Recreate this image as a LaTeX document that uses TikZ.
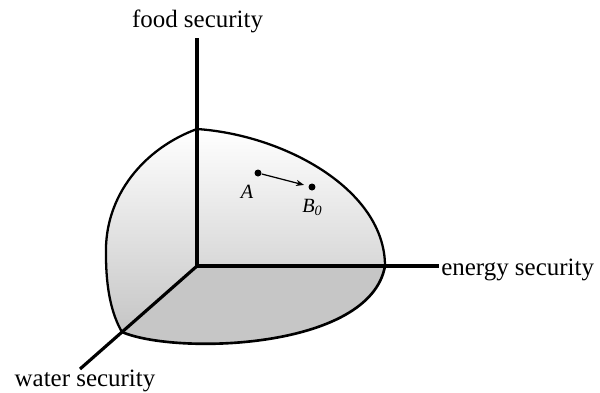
\documentclass[tikz,border=0pt]{standalone}
\usepackage{fontspec}
\setmainfont{Liberation Serif}
\usepackage{tikz}
\usetikzlibrary{calc, arrows.meta}

\begin{document}
\begin{tikzpicture}[x = 0.02cm, y = -0.02cm, font = \fontsize{14.2}{17}\selectfont]
        \useasboundingbox (0,0) rectangle (600,393);

        % Corners of the surface
        \coordinate (O) at (197,266);
        \coordinate (T) at (197,129);
        \coordinate (R) at (385,266);
        \coordinate (L) at (122,332);

        % Upper faces
        \shade[top color = white, bottom color = gray!45] (T) .. controls (285,135) and (385,190) .. (R) -- (O) -- (L) .. controls (112,315) and (106,290) .. (106,255) .. controls (104,195) and (145,148) .. (T) -- cycle;

        % Lower face
        \fill[gray!45] (R) .. controls (370,350) and (175,355) .. (L) -- (O) -- cycle;

        \draw[line width = 1.3pt] (T) .. controls (285,135) and (385,190) .. (R);
        \draw[line width = 1.3pt] (T) .. controls (145,148) and (104,195) .. (106,255) .. controls (106,290) and (112,315) .. (L);
        \draw[line width = 1.5pt] (L) .. controls (175,355) and (370,350) .. (R);

        % Axes
        \coordinate (Fend) at (197,38);
        \coordinate (Eend) at (439,266);
        \coordinate (Wend) at (80,369);
        \draw[line width = 2pt] (O) -- (Fend);
        \draw[line width = 2pt] (O) -- (Eend);
        \draw[line width = 1.8pt] (O) -- (Wend);

        \node[anchor = base] (food) at (197.5,27) {food security};
        \node[anchor = base west, inner sep = 0pt] (energy) at (441,275) {energy security};
        \node[anchor = base] (water) at (85,386) {water security};

        % Points
        \node[circle, fill, inner sep = 0pt, minimum size = 0.14cm] (A) at (258,173) {};
        \node[circle, fill, inner sep = 0pt, minimum size = 0.14cm] (B) at (312,187) {};
        \draw [line width = 0.7pt][-{Stealth[length = 4.5pt, width = 3.5pt]}, shorten > = 2.5pt] (A) -- (B);

        \node[anchor = base, font = \fontsize{11.5}{14}\selectfont] (Alabel) at (247,198) {\textit{A}};
        \node[anchor = base west, inner sep = 0pt, font = \fontsize{11.5}{14}\selectfont] (Blabel) at (302,212) {\textit{B}\textsubscript{\textit{0}}};
\end{tikzpicture}
\end{document}
